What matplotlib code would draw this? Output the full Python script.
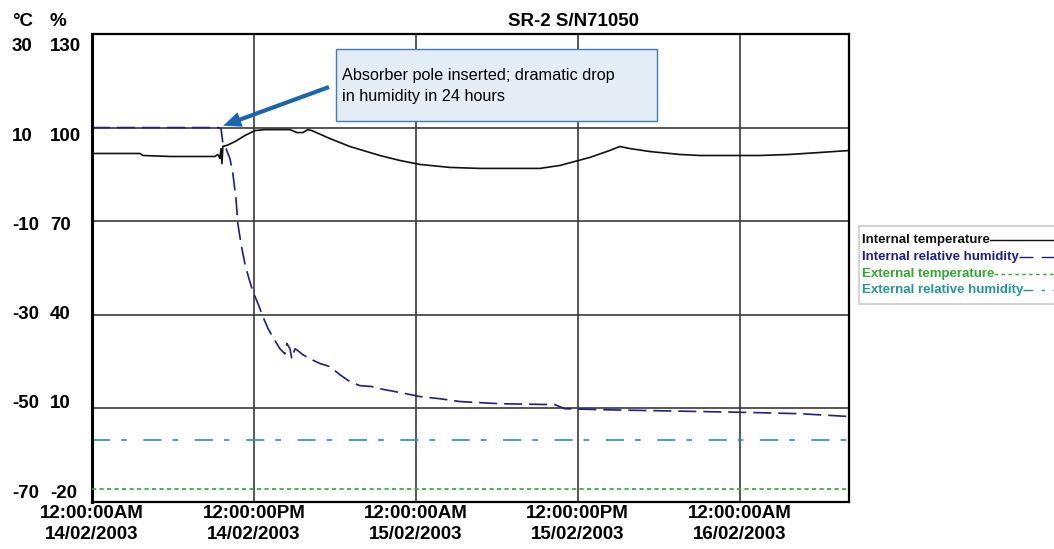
import numpy as np
import matplotlib
matplotlib.use("Agg")
import matplotlib.pyplot as plt
from matplotlib.lines import Line2D
from matplotlib.patches import Rectangle

plt.rcParams['font.family'] = ['Liberation Sans', 'DejaVu Sans']
plt.rcParams['lines.scale_dashes'] = False

# hours since 14/02/2003 00:00
rh_hours = [0, 9.33, 9.56, 9.70, 9.93, 10.22, 10.44, 10.67, 10.81, 11.04, 11.33, 11.63,
            11.93, 12.30, 12.67, 13.04, 13.48, 13.93, 14.30, 14.44, 14.67, 14.81, 15.04,
            15.26, 15.63, 16.15, 16.89, 17.63, 18.37, 19.11, 19.85, 20.74, 21.33, 22.81,
            24.30, 25.78, 27.26, 30.22, 34.30, 35.04, 37.63, 41.33, 45.04, 48.74, 52.44, 56.1]
rh_internal = [100, 100, 99.7, 94.9, 93.3, 90.1, 85.3, 77.2, 69.2, 62.8, 56.4, 51.6,
               47.4, 43.6, 39.4, 35.6, 32.3, 29.1, 27.5, 30.8, 29.1, 25.9, 29.1,
               28.5, 27.2, 25.9, 24.4, 23.4, 20.8, 18.6, 17.3, 17.0, 16.3, 15.1,
               13.8, 13.1, 12.2, 11.5, 11.2, 9.9, 9.6, 9.3, 9.0, 8.7, 8.3, 7.4]

t_hours = [0, 3.56, 3.78, 5.78, 9.11, 9.33, 9.48, 9.56, 9.63, 9.70, 10.0, 10.59, 11.33,
           12.07, 12.81, 14.67, 15.19, 15.63, 16.0, 16.3, 17.63, 19.11, 21.33, 22.81,
           24.3, 26.52, 28.74, 33.19, 34.67, 36.89, 38.37, 39.11, 39.85, 41.33, 43.56,
           45.04, 49.48, 51.70, 53.93, 56.1]
t_internal = [4.47, 4.47, 4.04, 3.83, 3.83, 4.26, 3.4, 5.5, 2.3, 6.0, 6.2, 7.0, 8.3,
              9.36, 9.57, 9.57, 8.94, 8.94, 9.57, 9.36, 7.66, 5.96, 4.04, 2.98,
              2.13, 1.49, 1.28, 1.28, 1.91, 3.62, 5.11, 5.96, 5.53, 4.89, 4.26,
              4.04, 4.04, 4.26, 4.68, 5.1]

ext_hours = [0, 56.1]
t_external = [-67.3, -67.3]
rh_external = [0, 0]

x_ticks = [0, 12, 24, 36, 48]
x_labels = ["12:00:00AM\n14/02/2003", "12:00:00PM\n14/02/2003", "12:00:00AM\n15/02/2003",
            "12:00:00PM\n15/02/2003", "12:00:00AM\n16/02/2003"]
rh_ticks = [130, 100, 70, 40, 10, -20]
t_ticks = [30, 10, -10, -30, -50, -70]

legend_labels = ["Internal temperature", "Internal relative humidity",
                 "External temperature", "External relative humidity"]

c_temp = "#111111"
c_rh = "#1c1c98"
c_ext_t = "#2ea82e"
c_ext_rh = "#1f9898"
styles = [
    dict(color=c_temp, lw=1.2, ls="-"),
    dict(color=c_rh, lw=1.2, ls=(0, (13, 5))),
    dict(color=c_ext_t, lw=1.2, ls=(0, (3, 2.4))),
    dict(color=c_ext_rh, lw=1.2, ls=(0, (13, 8, 4, 12))),
]
# smaller dash patterns for the legend samples
legend_ls = ["-", (0, (10, 6)), (0, (2.5, 2.5)), (0, (7, 6, 2.5, 6))]

W, H = 1054, 549
fig = plt.figure(figsize=(W / 100, H / 100), dpi=100)
ax = fig.add_axes([92 / W, (H - 502) / H, (849 - 92) / W, (502 - 34) / H])
ax.set_xlim(0, 56.1)
ax.set_ylim(-20, 130)
ax_t = ax.twinx()
ax_t.set_ylim(-70, 30)

ax.set_xticks(x_ticks)
ax.set_xticklabels(x_labels, fontsize=13.5, fontweight="bold", linespacing=1.3)
ax.set_yticks(rh_ticks)
ax.set_yticklabels([])
ax_t.set_yticks([])
ax.tick_params(length=0, pad=2.5)
ax.grid(True, color="#3a3a3a", lw=1.2)

for s in ax_t.spines.values():
    s.set_visible(False)
for name, s in ax.spines.items():
    s.set_color("black")
    s.set_linewidth(2.2 if name == "left" else 1.6)

ax_t.plot(t_hours, t_internal, **styles[0])
ax.plot(rh_hours, rh_internal, **styles[1])
ax_t.plot(ext_hours, t_external, **styles[2])
ax.plot(ext_hours, rh_external, **styles[3])

# y tick labels, two columns
fig.text(12 / W, 1 - 22 / H, "°C", fontsize=13.5, fontweight="bold", va="center")
fig.text(50 / W, 1 - 22 / H, "%", fontsize=13.5, fontweight="bold", va="center")
for i, (tv, hv) in enumerate(zip(t_ticks, rh_ticks)):
    y = 1 - (47 + i * 89.2) / H
    fig.text(12 / W, y, str(tv), fontsize=13.5, fontweight="bold", va="center")
    fig.text(50 / W, y, str(hv), fontsize=13.5, fontweight="bold", va="center")

fig.text(574 / W, 1 - 21 / H, "SR-2 S/N71050", fontsize=13.5, fontweight="bold",
         ha="center", va="center")

# annotation
fig.patches.append(Rectangle((336 / W, 1 - 121 / H), (657 - 336) / W, (121 - 49) / H,
                             transform=fig.transFigure, fc="#e4ecf5", ec="#3d7dbd", lw=1.0,
                             zorder=5))
fig.text(342 / W, 1 - 86 / H, "Absorber pole inserted; dramatic drop\nin humidity in 24 hours",
         fontsize=11.7, va="center", ha="left", linespacing=1.45, zorder=6)
ax.annotate("", xy=(9.72, 100.6), xycoords="data",
            xytext=(329 / W, 1 - 87 / H), textcoords="figure fraction",
            arrowprops=dict(arrowstyle="simple,head_length=1.3,head_width=1.1,tail_width=0.3",
                            fc="#1766b3", ec="none", shrinkA=0, shrinkB=0,
                            mutation_scale=10), zorder=7)

# legend: label then line sample
fig.patches.append(Rectangle((859 / W, 1 - 304 / H), 200 / W, 78 / H,
                             transform=fig.transFigure, fc="white", ec="#d4d4d4", lw=1.5))
fig.canvas.draw()
renderer = fig.canvas.get_renderer()
for i, (lab, st) in enumerate(zip(legend_labels, styles)):
    y = 1 - (240 + i * 16.8) / H
    t = fig.text(862 / W, y, lab, fontsize=9.5, fontweight="bold", color=st["color"],
                 va="center", ha="left")
    bb = t.get_window_extent(renderer)
    x0 = bb.x1 / W
    fig.lines.append(Line2D([x0, 1.0], [y, y], transform=fig.transFigure,
                            color=st["color"], lw=1.0, ls=legend_ls[i]))

fig.savefig("out.png", dpi=100)
